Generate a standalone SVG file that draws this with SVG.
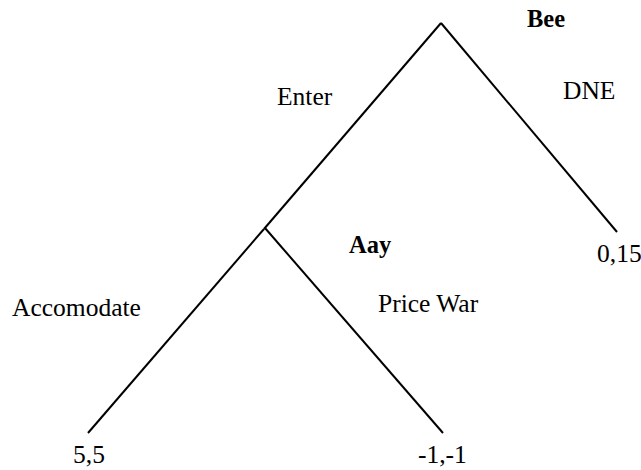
<svg xmlns="http://www.w3.org/2000/svg" width="641" height="470" viewBox="0 0 641 470">
<style>
.t{font-family:"Liberation Serif","Times New Roman",serif;font-size:25.5px;fill:#000}
.b{font-family:"Liberation Serif","Times New Roman",serif;font-size:24.5px;font-weight:bold;fill:#000}
.e{stroke:#000;stroke-width:2;fill:none}
</style>
<rect width="641" height="470" fill="#fff"/>
<g id="connectors">
<line class="e" x1="441" y1="23" x2="617" y2="232"/>
<line class="e" x1="441" y1="23" x2="264" y2="229"/>
<line class="e" x1="264" y1="229" x2="88" y2="433"/>
<line class="e" x1="265" y1="228" x2="443" y2="433"/>
<text class="t" x="277" y="105">Enter</text>
<text class="t" x="563" y="99">DNE</text>
<text class="t" x="12" y="316">Accomodate</text>
<text class="t" x="378" y="312">Price War</text>
</g>
<g id="node-bee"><text class="b" x="527" y="27">Bee</text></g>
<g id="node-aay"><text class="b" x="349" y="253">Aay</text></g>
<g id="leaf-dne"><text class="t" x="597" y="262">0,15</text></g>
<g id="leaf-accomodate"><text class="t" x="73" y="463">5,5</text></g>
<g id="leaf-pricewar"><text class="t" x="418" y="463">-1,-1</text></g>
</svg>
